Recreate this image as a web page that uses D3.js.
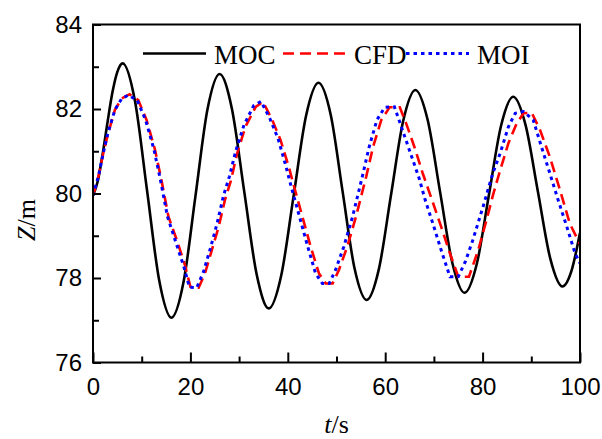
<!DOCTYPE html>
<html>
<head>
<meta charset="utf-8">
<script src="https://cdn.jsdelivr.net/npm/d3@7"></script>
<style>
  html, body { margin: 0; padding: 0; background: #fff; }
  svg { display: block; }
</style>
</head>
<body>
<div id="chart"></div>
<script>
// t (s), Z (m)
const moc = [[0,79.95],[1,80.3],[2,80.95],[3,81.7],[4,82.4],[5,82.88],[6.1,83.08],[8.6,82.2],[11.1,80.07],[13.6,77.94],
  [16.1,77.06],[18.6,77.91],[21.05,79.95],[23.5,81.99],[26,82.83],[28.5,82.02],[31.05,80.05],[33.6,78.09],[36.1,77.28],
  [38.65,78.06],[41.2,79.95],[43.75,81.84],[46.3,82.62],[48.8,81.87],[51.25,80.05],[53.7,78.23],[56.2,77.48],[58.7,78.21],
  [61.2,79.97],[63.7,81.72],[66.2,82.45],[68.7,81.75],[71.25,80.05],[73.8,78.35],[76.3,77.65],[78.8,78.33],[81.3,79.97],
  [83.8,81.61],[86.3,82.29],[88.8,81.63],[91.35,80.05],[93.9,78.46],[96.4,77.8],[98.2,78.15],[100,79.07]];

const cfd = [[0,79.95],[1.1,80.4],[2.1,80.95],[3.1,81.42],[4.5,81.98],[5.9,82.25],[7.5,82.35],[9.3,82.21],[11,81.74],
  [12.7,81.05],[14,80.35],[15.5,79.45],[17.2,78.9],[18.9,78.3],[20,77.79],[21.7,77.77],[23,78.11],[24.4,78.66],[25.8,79.21],
  [27.1,79.85],[28.3,80.3],[29.6,80.95],[31.3,81.58],[33.4,82.05],[34.9,82.17],[36.8,81.74],[38.5,81.27],[40.2,80.63],
  [41.3,80.16],[43,79.45],[44.7,78.74],[46.4,78.11],[47.8,77.87],[49.2,77.87],[50.5,78.19],[52.2,78.74],[54,79.45],
  [56.1,80.4],[57.5,81.1],[59.2,81.74],[60.9,82.04],[63,82.04],[64.3,81.66],[66,81.1],[67.7,80.48],[69.6,79.85],
  [71.5,79.21],[73.3,78.58],[75,78.03],[77.2,78.03],[79.1,78.66],[80.8,79.37],[82.1,79.95],[83.6,80.55],[85.3,81.19],
  [87,81.66],[88.4,81.9],[90.1,81.91],[91.8,81.5],[93.8,80.87],[95.9,80.08],[97.9,79.29],[100,78.8]];

const moi = [[0,79.95],[1.1,80.4],[2.1,80.95],[3.1,81.45],[4.5,81.98],[5.9,82.25],[7.3,82.33],[9.1,82.2],[10.8,81.74],
  [12.5,81.05],[13.8,80.35],[15.3,79.45],[17,78.85],[18.7,78.25],[19.8,77.78],[21.3,77.77],[22.7,78.15],[24.1,78.7],
  [25.5,79.3],[26.8,79.95],[28,80.4],[29.3,81],[31,81.62],[33,82.08],[34.5,82.18],[36.3,81.78],[38,81.3],[39.6,80.65],
  [40.7,80.16],[42.4,79.45],[44.1,78.74],[45.7,78.11],[47.1,77.87],[48.5,77.87],[49.8,78.19],[51.5,78.74],[53.3,79.45],
  [55.3,80.4],[56.7,81.1],[58.3,81.74],[59.9,82.04],[61.9,82.05],[63.4,81.55],[65.2,80.95],[67,80.35],[68.2,79.85],
  [69.9,79.25],[71.6,78.62],[73.3,78.03],[75,78.03],[76.5,78.4],[78,78.9],[80.1,79.69],[82.1,80.48],[83.6,80.95],
  [85.3,81.58],[86.7,81.9],[88.4,81.94],[90.4,81.74],[92.1,81.1],[93.8,80.48],[95.5,79.85],[97.3,79.21],[99,78.58],[100,78.35]];

const legendLabels = ["MOC", "CFD", "MOI"];
const xMajor = [0, 20, 40, 60, 80, 100];
const xMinor = [10, 30, 50, 70, 90];
const yMajor = [76, 78, 80, 82, 84];
const yMinor = [77, 79, 81, 83];

const w = 602, h = 439;
const pLeft = 93, pRight = 580, pTop = 24.5, pBottom = 362.5;

const svg = d3.select("#chart").append("svg")
    .attr("width", w)
    .attr("height", h);

const x = d3.scaleLinear().domain([0, 100]).range([pLeft, pRight]);
const y = d3.scaleLinear().domain([76, 84]).range([pBottom, pTop]);

svg.append("defs").append("clipPath").attr("id", "plot")
    .append("rect")
    .attr("x", pLeft).attr("y", pTop - 5)
    .attr("width", pRight - pLeft).attr("height", pBottom - pTop + 5);

// curves
const line = d3.line().x(d => x(d[0])).y(d => y(d[1]));
const curves = svg.append("g").attr("clip-path", "url(#plot)").attr("fill", "none");

curves.append("path")
    .attr("d", line.curve(d3.curveMonotoneX)(moc))
    .attr("stroke", "#000").attr("stroke-width", 2.6);

curves.append("path")
    .attr("d", line.curve(d3.curveLinear)(cfd))
    .attr("stroke", "#ff0000").attr("stroke-width", 2.6)
    .attr("stroke-dasharray", "11,6");

curves.append("path")
    .attr("d", line.curve(d3.curveLinear)(moi))
    .attr("stroke", "#0000ff").attr("stroke-width", 3)
    .attr("stroke-dasharray", "3.5,4");

// axes, ticks inward
const sans = "'Liberation Sans', Arial, sans-serif";
const serif = "'Liberation Serif', 'Times New Roman', serif";

svg.append("g")
    .attr("transform", `translate(0, ${pBottom})`)
    .call(d3.axisBottom(x).tickValues(xMajor).tickSize(-10).tickPadding(15.5));
svg.append("g")
    .attr("transform", `translate(0, ${pBottom})`)
    .call(d3.axisBottom(x).tickValues(xMinor).tickSize(-6).tickFormat(""));

svg.append("g")
    .attr("transform", `translate(${pLeft}, 0)`)
    .call(d3.axisLeft(y).tickValues(yMajor).tickSize(-8).tickPadding(11));
svg.append("g")
    .attr("transform", `translate(${pLeft}, 0)`)
    .call(d3.axisLeft(y).tickValues(yMinor).tickSize(-6).tickFormat(""));

svg.selectAll(".domain").remove();
svg.selectAll(".tick line").attr("stroke", "#000").attr("stroke-width", 2);
svg.selectAll(".tick text")
    .attr("fill", "#000")
    .style("font-family", sans)
    .style("font-size", "24px");

// frame
svg.append("rect")
    .attr("x", pLeft).attr("y", pTop)
    .attr("width", pRight - pLeft).attr("height", pBottom - pTop)
    .attr("fill", "none").attr("stroke", "#000").attr("stroke-width", 2);

// axis titles
const yTitle = svg.append("text")
    .attr("transform", `translate(35, 220) rotate(-90)`)
    .attr("text-anchor", "middle")
    .style("font-family", serif).style("font-size", "26px");
yTitle.append("tspan").attr("font-style", "italic").text("Z");
yTitle.append("tspan").text("/m");

const xTitle = svg.append("text")
    .attr("x", (pLeft + pRight) / 2).attr("y", 433)
    .attr("text-anchor", "middle")
    .style("font-family", serif).style("font-size", "26px");
xTitle.append("tspan").attr("font-style", "italic").text("t");
xTitle.append("tspan").text("/s");

// legend
const legendX = [143, 283, 406];
const legendStyle = [
    { stroke: "#000", dash: null, width: 2.6 },
    { stroke: "#ff0000", dash: "11,6", width: 2.6 },
    { stroke: "#0000ff", dash: "3.5,4", width: 3 }
];
const legend = svg.append("g").attr("id", "legend");
legendLabels.forEach((label, i) => {
    legend.append("line")
        .attr("x1", legendX[i]).attr("x2", legendX[i] + 63)
        .attr("y1", 53.5).attr("y2", 53.5)
        .attr("stroke", legendStyle[i].stroke)
        .attr("stroke-width", legendStyle[i].width)
        .attr("stroke-dasharray", legendStyle[i].dash);
    legend.append("text")
        .attr("x", legendX[i] + 71).attr("y", 63.5)
        .style("font-family", serif).style("font-size", "27px")
        .text(label);
});
</script>
</body>
</html>
